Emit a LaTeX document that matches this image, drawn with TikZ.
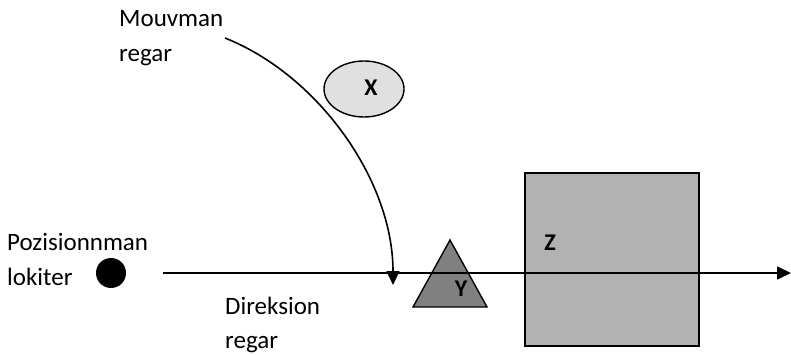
\documentclass[tikz,border=0pt]{standalone}
\usepackage{fontspec}
\setmainfont{Carlito}
\usetikzlibrary{arrows.meta,shapes.geometric}
\begin{document}
\begin{tikzpicture}[x=1pt,y=-1pt,
  lbl/.style={font=\fontsize{25}{30}\selectfont,anchor=base west,inner sep=0pt},
  tag/.style={font=\fontsize{24}{28}\selectfont\bfseries,inner sep=0pt},
  arr/.style={line width=1.6pt,-{Triangle[length=14pt,width=13pt]}}]
\useasboundingbox (0,0) rectangle (791,355);
% square Z
\node[draw,line width=1.7pt,fill=black!30,minimum width=174pt,minimum height=173pt,inner sep=0pt] (z) at (612,259.5) {};
\node[tag] (zl) at (550,243) {Z};
% triangle Y
\path[draw,line width=1.4pt,fill=black!50] (450,240) coordinate (ya) -- (487,307) coordinate (yb) -- (413,307) coordinate (yc) -- cycle;
\node[tag] (yl) at (461,289) {Y};
% ellipse X
\node[draw,line width=1.4pt,fill=black!12,ellipse,minimum width=80pt,minimum height=56pt,inner sep=0pt] (x) at (364,89) {};
\node[tag] (xl) at (371,87.5) {X};
% dot
\node[circle,fill=black,minimum size=30pt,inner sep=0pt] (dot) at (111,273) {};
% horizontal line
\coordinate (hs) at (163,273);
\coordinate (he) at (791,273);
\draw[arr] (hs) -- (he);
% curve
\coordinate (cs) at (225,38);
\coordinate (ce) at (393,285);
\draw[arr] (cs) .. controls (318,75) and (393,180) .. (ce);
% labels
\node[lbl] (m1) at (119,27) {Mouvman};
\node[lbl] (m2) at (119,62) {regar};
\node[lbl] (p1) at (7,250) {Pozisionnman};
\node[lbl] (p2) at (7,285) {lokiter};
\node[lbl] (d1) at (225,314) {Direksion};
\node[lbl] (d2) at (225,348) {regar};
\end{tikzpicture}
\end{document}
